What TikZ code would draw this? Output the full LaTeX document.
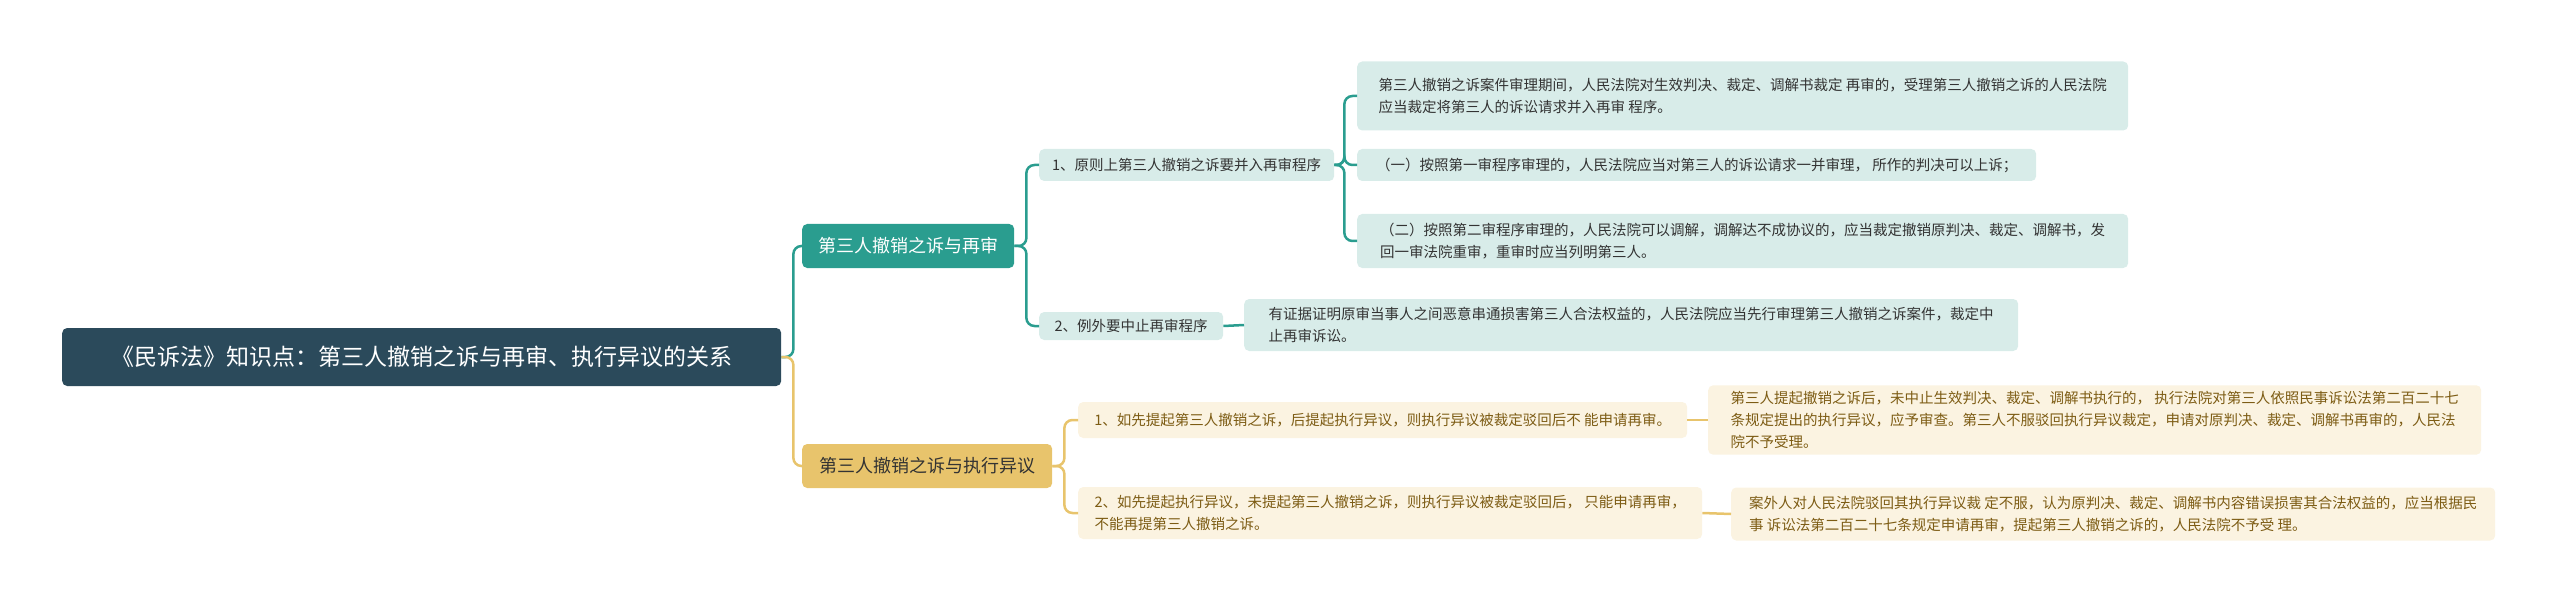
\documentclass[tikz,border=0pt]{standalone}
\usepackage{fontspec}
\setmainfont{Noto Sans CJK SC}
\usetikzlibrary{positioning}
\definecolor{rootblue}{HTML}{2B4A5B}
\definecolor{tealmain}{HTML}{2A9D8F}
\definecolor{teallight}{HTML}{D8ECE9}
\definecolor{goldmain}{HTML}{E8C46C}
\definecolor{goldlight}{HTML}{FBF3E1}
\definecolor{goldtext}{HTML}{7D5C14}
\tikzset{
  box/.style={rounded corners=5pt, anchor=west, align=left, inner xsep=9pt, inner ysep=6pt},
  rootbox/.style={box, fill=rootblue, text=white, font=\fontsize{23}{28}\selectfont, minimum height=58pt},
  tealbox/.style={box, fill=tealmain, text=white, font=\fontsize{18}{22}\selectfont, minimum height=44pt},
  goldbox/.style={box, fill=goldmain, text=black!80, font=\fontsize{18}{22}\selectfont, minimum height=44pt},
  tealleaf/.style={box, fill=teallight, text=black!80, font=\fontsize{14.5}{22}\selectfont},
  goldleaf/.style={box, fill=goldlight, text=goldtext, font=\fontsize{14.5}{22}\selectfont},
  tealline/.style={draw=tealmain, line width=2.5pt, rounded corners=8pt},
  goldline/.style={draw=goldmain, line width=2.5pt, rounded corners=8pt},
}
\begin{document}
\begin{tikzpicture}[x=1pt,y=-1pt]
\useasboundingbox (0,0) rectangle (2560,604);
% root and main branches
\node[rootbox, minimum width=719pt] (root) at (62,357) {《民诉法》知识点：第三人撤销之诉与再审、执行异议的关系};
\node[tealbox, minimum width=212pt] (retrial) at (802,246) {第三人撤销之诉与再审};
\node[goldbox, minimum width=250pt] (objection) at (802,466) {第三人撤销之诉与执行异议};
% teal side
\node[tealleaf, minimum width=295pt, minimum height=32pt] (merge) at (1039,165) {1、原则上第三人撤销之诉要并入再审程序};
\node[tealleaf, minimum width=184pt, minimum height=28pt] (suspend) at (1039,326) {2、例外要中止再审程序};
\node[tealleaf, minimum width=771pt, minimum height=69pt] (mergeA) at (1357,96) { 第三人撤销之诉案件审理期间，人民法院对生效判决、裁定、调解书裁定 再审的，受理第三人撤销之诉的人民法院\\应当裁定将第三人的诉讼请求并入再审 程序。};
\node[tealleaf, minimum width=679pt, minimum height=32pt] (mergeB) at (1357,165) {（一）按照第一审程序审理的，人民法院应当对第三人的诉讼请求一并审理， 所作的判决可以上诉；};
\node[tealleaf, minimum width=771pt, minimum height=54pt] (mergeC) at (1357,241) {（二）按照第二审程序审理的，人民法院可以调解，调解达不成协议的，应当裁定撤销原判决、裁定、调解书，发\\回一审法院重审，重审时应当列明第三人。};
\node[tealleaf, minimum width=774pt, minimum height=52pt] (suspendA) at (1244,325) {有证据证明原审当事人之间恶意串通损害第三人合法权益的，人民法院应当先行审理第三人撤销之诉案件，裁定中\\止再审诉讼。};
% gold side
\node[goldleaf, minimum width=609pt, minimum height=36pt] (first) at (1078,420) {1、如先提起第三人撤销之诉，后提起执行异议，则执行异议被裁定驳回后不 能申请再审。};
\node[goldleaf, minimum width=624pt, minimum height=52pt] (second) at (1078,513) {2、如先提起执行异议，未提起第三人撤销之诉，则执行异议被裁定驳回后， 只能申请再审，\\不能再提第三人撤销之诉。};
\node[goldleaf, minimum width=773pt, minimum height=69pt] (firstA) at (1708,420) {第三人提起撤销之诉后，未中止生效判决、裁定、调解书执行的， 执行法院对第三人依照民事诉讼法第二百二十七\\条规定提出的执行异议，应予审查。第三人不服驳回执行异议裁定，申请对原判决、裁定、调解书再审的，人民法\\院不予受理。};
\node[goldleaf, minimum width=764pt, minimum height=53pt] (secondA) at (1731,514) {案外人对人民法院驳回其执行异议裁 定不服，认为原判决、裁定、调解书内容错误损害其合法权益的，应当根据民\\事 诉讼法第二百二十七条规定申请再审，提起第三人撤销之诉的，人民法院不予受 理。};
% connectors
\draw[tealline] (root.east) -- ++(12,0) |- (retrial.west);
\draw[goldline] (root.east) -- ++(12,0) |- (objection.west);
\foreach \kid in {merge,suspend}
  \draw[tealline] (retrial.east) -- ++(12,0) |- (\kid.west);
\foreach \kid in {mergeA,mergeB,mergeC}
  \draw[tealline] (merge.east) -- ++(10,0) |- (\kid.west);
\draw[tealline] (suspend.east) -- (suspendA.west);
\foreach \kid in {first,second}
  \draw[goldline] (objection.east) -- ++(12,0) |- (\kid.west);
\draw[goldline] (first.east) -- (firstA.west);
\draw[goldline] (second.east) -- (secondA.west);
\end{tikzpicture}
\end{document}
